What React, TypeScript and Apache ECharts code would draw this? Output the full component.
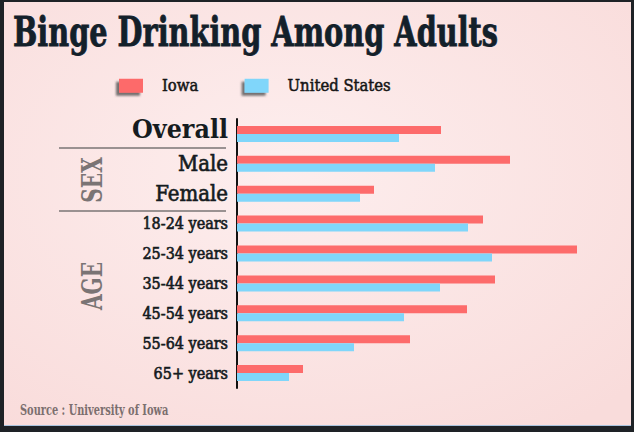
import React, { useEffect, useRef } from "react";
import * as echarts from "echarts";

const categories = [
  "Overall",
  "Male",
  "Female",
  "18-24 years",
  "25-34 years",
  "35-44 years",
  "45-54 years",
  "55-64 years",
  "65+ years",
];
const iowaValues = [20.4, 27.3, 13.7, 24.6, 34.0, 25.8, 23.0, 17.3, 6.6];
const usValues = [16.2, 19.8, 12.3, 23.1, 25.5, 20.3, 16.7, 11.7, 5.2];
const seriesNames = ["Iowa", "United States"];

const FONT = "'DejaVu Serif Condensed', 'DejaVu Serif', serif";
const DARK = "#151b20";

export default function App() {
  const ref = useRef<HTMLDivElement>(null);
  useEffect(() => {
    document.body.style.margin = "0";
    const chart = echarts.init(ref.current!, undefined, { renderer: "svg" });
    const med = { textBorderColor: DARK, textBorderWidth: 0.6 };
    chart.setOption({
      animation: false,
      backgroundColor: "#1e2226",
      grid: { left: 237, top: 119, right: 17, bottom: 44, containLabel: false },
      legend: {
        left: 114,
        top: 72,
        icon: "rect",
        itemWidth: 24,
        itemHeight: 14,
        itemGap: 46,
        selectedMode: false,
        itemStyle: {
          shadowColor: "rgba(70,70,70,0.75)",
          shadowOffsetX: -3,
          shadowOffsetY: 3,
          shadowBlur: 2,
        },
        textStyle: {
          fontFamily: FONT,
          fontSize: 16.5,
          color: "#151515",
          textBorderColor: "#151515",
          textBorderWidth: 0.5,
          padding: [0, 0, 0, 14],
        },
        data: seriesNames,
      },
      xAxis: {
        type: "value",
        min: 0,
        max: 38,
        show: false,
        splitLine: { show: false },
      },
      yAxis: {
        type: "category",
        inverse: true,
        data: categories,
        axisTick: { show: false },
        axisLine: { show: true, lineStyle: { color: "#111111", width: 2 } },
        axisLabel: {
          margin: 9,
          color: DARK,
          fontFamily: FONT,
          formatter: (v: string) =>
            v === "Overall"
              ? `{o|${v}}`
              : v === "Male" || v === "Female"
              ? `{s|${v}}`
              : `{a|${v}}`,
          rich: {
            o: { fontFamily: FONT, fontSize: 26.5, fontWeight: "bold", color: DARK, padding: [0, 0, 10, 0] },
            s: { fontFamily: FONT, fontSize: 22, color: DARK, ...med },
            a: { fontFamily: FONT, fontSize: 16, color: DARK, ...med },
          },
        },
      },
      series: [
        {
          name: seriesNames[0],
          type: "bar",
          data: iowaValues,
          barWidth: 8,
          barGap: "0%",
          itemStyle: { color: "#fd6b6b" },
        },
        {
          name: seriesNames[1],
          type: "bar",
          data: usValues,
          barWidth: 8,
          barGap: "0%",
          itemStyle: { color: "#80d6fa" },
        },
      ],
      graphic: [
        {
          type: "rect",
          z: -100,
          silent: true,
          shape: { x: 4, y: 2, width: 627, height: 423 },
          style: {
            fill: {
              type: "radial",
              x: 0.45,
              y: 0.4,
              r: 0.75,
              colorStops: [
                { offset: 0, color: "#fdeeee" },
                { offset: 1, color: "#f9dcdb" },
              ],
            },
          },
        },
        {
          type: "line",
          z: -90,
          silent: true,
          shape: { x1: 4, y1: 425.5, x2: 631, y2: 425.5 },
          style: { stroke: "#a9c3dd", lineWidth: 1 },
        },
        {
          type: "text",
          x: 13,
          y: 32,
          scaleX: 0.78,
          style: {
            text: "Binge Drinking Among Adults",
            fontFamily: FONT,
            fontWeight: "bold",
            fontSize: 41,
            fill: "#13202a",
            stroke: "#13202a",
            lineWidth: 0.8,
            verticalAlign: "middle",
          },
        },
        {
          type: "line",
          shape: { x1: 59, y1: 148, x2: 226, y2: 148 },
          style: { stroke: "#7a7474", lineWidth: 1.5 },
        },
        {
          type: "line",
          shape: { x1: 59, y1: 211, x2: 226, y2: 211 },
          style: { stroke: "#7a7474", lineWidth: 1.5 },
        },
        {
          type: "text",
          x: 92,
          y: 180,
          rotation: Math.PI / 2,
          scaleX: 0.8,
          style: {
            text: "SEX",
            fontFamily: FONT,
            fontWeight: "bold",
            fontSize: 28,
            fill: "#7a7474",
            align: "center",
            verticalAlign: "middle",
          },
        },
        {
          type: "text",
          x: 92,
          y: 286,
          rotation: Math.PI / 2,
          scaleX: 0.8,
          style: {
            text: "AGE",
            fontFamily: FONT,
            fontWeight: "bold",
            fontSize: 28,
            fill: "#7a7474",
            align: "center",
            verticalAlign: "middle",
          },
        },
        {
          type: "text",
          x: 20,
          y: 410,
          scaleX: 0.78,
          style: {
            text: "Source : University of Iowa",
            fontFamily: FONT,
            fontWeight: "bold",
            fontSize: 14,
            fill: "#7c6f6f",
            verticalAlign: "middle",
          },
        },
      ],
    });
    return () => chart.dispose();
  }, []);
  return (
    <div
      ref={ref}
      style={{ position: "fixed", left: 0, top: 0, width: 634, height: 432 }}
    />
  );
}
